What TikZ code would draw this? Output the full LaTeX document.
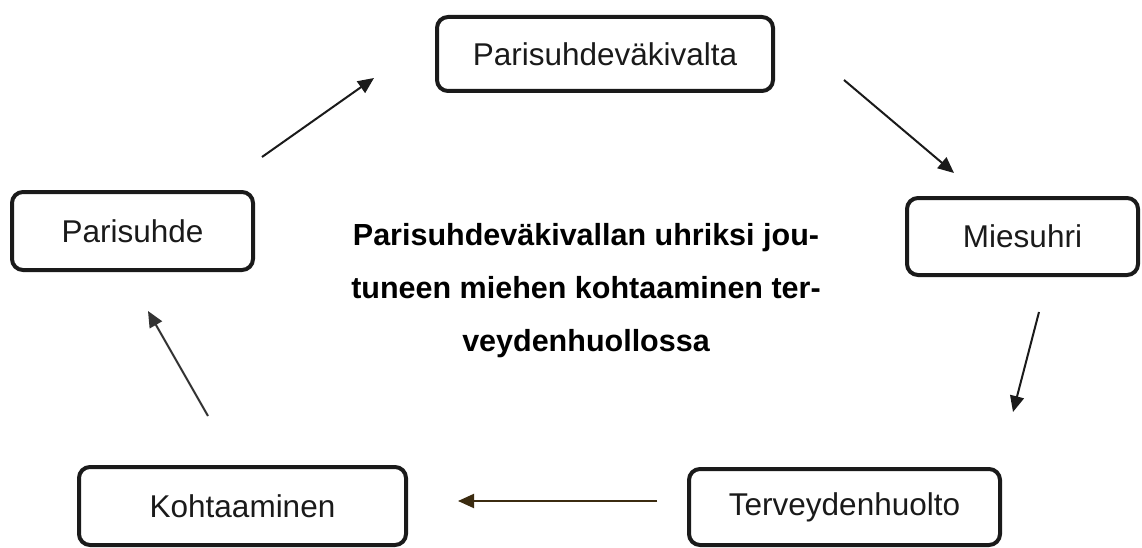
\documentclass[tikz,border=0pt]{standalone}
\usepackage{fontspec}
\setmainfont{Liberation Sans}
\usetikzlibrary{arrows.meta}
\definecolor{boxline}{HTML}{1A1A1A}
\definecolor{arrowbrown}{HTML}{3B2B10}
\definecolor{arrowgray}{HTML}{333333}

\begin{document}
\begin{tikzpicture}[x=1pt,y=-1pt]
        \tikzstyle{box}=[draw=boxline,line width=4pt,rounded corners=11pt,text=boxline,inner sep=0pt,font=\fontsize{31.5}{36}\selectfont]
        \tikzstyle{arrow}=[draw=boxline,line width=2pt,-{Triangle[length=16pt,width=14pt]}]
        \useasboundingbox (0,0) rectangle (1142,548);
        \node[box,minimum width=336pt,minimum height=74pt] (vakivalta) at (605,54) {Parisuhdeväkivalta};
        \node[box,minimum width=241pt,minimum height=78pt] (suhde) at (132.5,231) {Parisuhde};
        \node[box,minimum width=231pt,minimum height=77pt] (uhri) at (1022.5,236.5) {Miesuhri};
        \node[box,minimum width=327pt,minimum height=78pt] (kohtaaminen) at (242.5,506) {Kohtaaminen};
        \node[box,minimum width=311pt,minimum height=76pt] (huolto) at (844.5,507) {Terveydenhuolto};
        \node[align=center,font=\bfseries\fontsize{30.5}{53}\selectfont] (otsikko) at (586,291) {Parisuhdeväkivallan uhriksi jou-\\tuneen miehen kohtaaminen ter-\\veydenhuollossa};
        \coordinate (a1s) at (262,157); \coordinate (a1e) at (374,78);
        \coordinate (a2s) at (844,80); \coordinate (a2e) at (954,173);
        \coordinate (a3s) at (1039,312); \coordinate (a3e) at (1013,412);
        \coordinate (a4s) at (657,501); \coordinate (a4e) at (458,501);
        \coordinate (a5s) at (208,416); \coordinate (a5e) at (148,311);
        \draw[arrow] (a1s) -- (a1e);
        \draw[arrow] (a2s) -- (a2e);
        \draw[arrow] (a3s) -- (a3e);
        \draw[arrow,draw=arrowbrown,fill=arrowbrown] (a4s) -- (a4e);
        \draw[arrow,draw=arrowgray,fill=arrowgray] (a5s) -- (a5e);
    \end{tikzpicture}
\end{document}
